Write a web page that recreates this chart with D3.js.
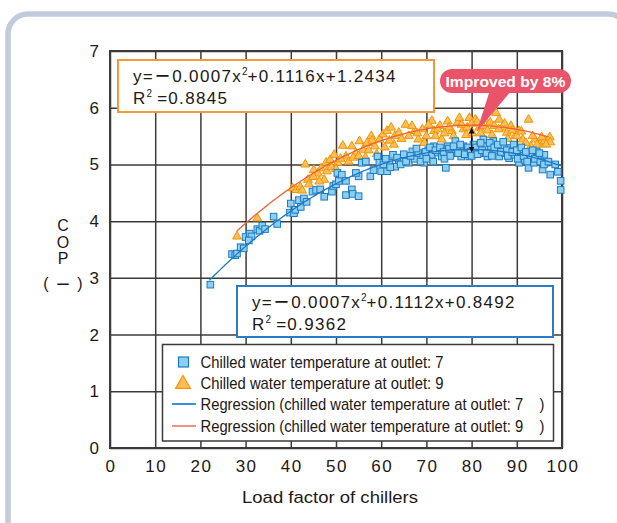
<!DOCTYPE html>
<html>
<head>
<meta charset="utf-8">
<script src="https://cdn.jsdelivr.net/npm/d3@7"></script>
<style>
  html, body { margin: 0; padding: 0; background: #fff; }
  svg { display: block; font-family: "Liberation Sans", Arial, sans-serif; }
</style>
</head>
<body>
<svg id="chart" width="617" height="523"></svg>
<script>
const xTicks = [0, 10, 20, 30, 40, 50, 60, 70, 80, 90, 100];
const yTicks = [0, 1, 2, 3, 4, 5, 6, 7];

// regression coefficients as printed on the chart: [a, b, c] for a*x^2 + b*x + c, with x range drawn
const fit7 = [-0.0007, 0.1112, 0.8492];
const fit7Range = [22, 100];
const fit9 = [-0.0007, 0.1116, 1.2434];
const fit9Range = [28, 97];

const eq9Lines = ["0.0007x", "+0.1116x+1.2434", "0.8845"];
const eq7Lines = ["0.0007x", "+0.1112x+0.8492", "0.9362"];

const legendLabels = [
  "Chilled water temperature at outlet: 7",
  "Chilled water temperature at outlet: 9",
  "Regression (chilled water temperature at outlet: 7    )",
  "Regression (chilled water temperature at outlet: 9    )"
];

// chilled water outlet 7 (blue squares): [load factor %, COP]
const outlet7 = [
  [22.2, 2.88], [27, 3.42], [27.7, 3.4], [28.1, 3.43], [28.9, 3.54], [29.6, 3.52],
  [30, 3.72], [30.9, 3.78], [31.3, 3.73], [30.7, 3.66], [32.6, 3.86], [33.1, 3.83],
  [33.7, 3.92], [34.3, 3.86], [36.2, 4.08], [37, 3.95], [40, 4.31], [39.8, 4.15],
  [40.7, 4.14], [41, 4.2], [41.8, 4.37], [42.2, 4.25], [42.9, 4.4], [43.5, 4.34],
  [44.8, 4.52], [45.6, 4.55], [46.5, 4.56], [47.4, 4.43], [49.1, 4.52], [49.4, 4.62],
  [50, 4.65], [50.6, 4.71], [50.3, 4.85], [51.3, 4.82], [52.2, 4.71], [52.2, 4.46],
  [53.5, 4.56], [53.7, 4.48], [55, 4.44], [55, 4.79], [54.4, 4.85], [55.7, 5.03],
  [56.6, 5.05], [57.6, 4.79], [58.3, 4.9], [59.2, 5.14], [59.6, 5.03], [60, 4.88],
  [61.3, 4.88], [61.8, 5.03], [62.6, 5.17], [63.1, 4.96], [63.9, 5.08], [64.8, 5.11],
  [66.1, 5.03], [66.9, 5.23], [67.4, 5.1], [68.2, 5.2], [69.3, 5.14], [69.5, 5.03],
  [70.4, 5.25], [71.2, 5.17], [71.7, 5.32], [72.5, 5.21], [73.4, 5.14], [74.3, 4.94],
  [74.7, 5.32], [75.6, 5.2], [76.4, 5.41], [76.9, 5.26], [77.7, 5.14], [78.2, 5.32],
  [79, 5.23], [79.5, 5.14], [80.4, 5.35], [80.8, 5.26], [81.7, 5.2], [82.6, 5.44],
  [83, 5.32], [83.5, 5.14], [84.3, 5.29], [84.8, 5.41], [85.4, 5.23], [86.1, 5.14],
  [86.9, 5.32], [87.4, 5.2], [88.3, 5.11], [88.7, 5.29], [89.6, 5.17], [90.5, 5.03],
  [90.9, 5.2], [91.8, 5.08], [92.6, 4.94], [93.1, 5.14], [93.8, 5.03], [94.4, 5.23],
  [94.8, 5.11], [95.7, 4.91], [96.1, 5.17], [96.6, 5.03], [97.4, 4.82], [99.1, 4.87],
  [99.7, 4.71], [99.7, 4.55],
  [60.5, 5.0], [61, 5.1], [62, 4.95], [63.5, 5.12], [64.3, 5.0], [65, 5.18],
  [65.5, 5.05], [66.5, 5.15], [67.8, 5.28], [68.7, 5.05], [69.8, 5.22], [70, 5.1],
  [70.8, 5.3], [71.5, 5.05], [72, 5.25], [73, 5.3], [73.8, 5.22], [74, 5.1],
  [75, 5.28], [75.3, 5.15], [76, 5.32], [77, 5.2], [77.5, 5.35], [78.5, 5.18],
  [79.2, 5.3], [79.8, 5.22], [80, 5.15], [81, 5.3], [81.3, 5.18], [82, 5.38],
  [82.3, 5.25], [83.3, 5.2], [84, 5.38], [84.5, 5.15], [85, 5.3], [85.8, 5.35],
  [86.5, 5.22], [87, 5.4], [87.8, 5.25], [88, 5.15], [89, 5.22], [89.3, 5.35],
  [90, 5.25], [90.2, 5.1], [91, 5.3], [91.5, 5.15], [92, 5.22], [92.3, 5.05],
  [93.5, 5.25], [94, 5.1], [95, 5.2], [95.2, 5.05], [96, 5.0], [97, 5.05], [98.5, 5.0]
];

// chilled water outlet 9 (orange triangles): [load factor %, COP]
const outlet9 = [
  [28.1, 3.73], [32.6, 4.05], [40.4, 4.58], [41.2, 4.55], [42.1, 4.6], [42.5, 4.54],
  [43.2, 5.0], [43.8, 4.73], [45.1, 4.9], [46, 4.84], [46.7, 4.93], [47.4, 4.73],
  [47.8, 5.03], [48.7, 5.08], [49.6, 5.17], [50.4, 5.03], [51.5, 5.33], [52.2, 5.14],
  [53.5, 5.32], [54.4, 5.2], [55.2, 5.41], [56, 5.26], [56.9, 5.38], [57.8, 5.5],
  [58.6, 5.32], [59.6, 5.44], [60.4, 5.53], [61.3, 5.59], [62.2, 5.65], [63, 5.5],
  [63.9, 5.56], [65.4, 5.7], [66.1, 5.5], [67.4, 5.59], [68.2, 5.44], [69.1, 5.62],
  [70, 5.5], [71.2, 5.77], [71.7, 5.59], [73, 5.68], [73.4, 5.44], [74.7, 5.76],
  [75.6, 5.59], [76.9, 5.74], [77.3, 5.82], [78.2, 5.62], [79.5, 5.82], [80.8, 5.79],
  [81.7, 5.65], [83, 5.79], [84.1, 5.74], [85.4, 5.91], [86.1, 5.79], [86.9, 5.65],
  [87.8, 5.56], [88.7, 5.68], [89.6, 5.5], [90.5, 5.59], [91.3, 5.44], [92.6, 5.79],
  [93.1, 5.32], [94, 5.44], [95.3, 5.38], [96.1, 5.41], [97.3, 5.48], [97.4, 5.39],
  [62.8, 5.35], [64.5, 5.45], [66.8, 5.68], [68, 5.55], [69.5, 5.38], [70.5, 5.7],
  [72, 5.5], [72.5, 5.62], [74, 5.55], [75, 5.65], [76, 5.5], [77.8, 5.7],
  [78.8, 5.52], [79, 5.65], [80, 5.72], [80.2, 5.55], [81.2, 5.75], [82, 5.55],
  [82.5, 5.68], [83.5, 5.6], [84.5, 5.52], [85, 5.68], [86, 5.62], [87.3, 5.72],
  [88, 5.45], [89, 5.6], [90, 5.5], [91, 5.58], [92, 5.38], [93.5, 5.5],
  [94.5, 5.35], [95.5, 5.48], [96.5, 5.35],
  [44, 4.65], [45, 4.78], [46.3, 4.7], [48, 4.88], [49, 4.95], [50, 4.92],
  [51, 5.1], [52.8, 5.05], [53.8, 5.12], [55, 5.15], [56.5, 5.12], [57.2, 5.25],
  [58, 5.42], [59, 5.18], [60.8, 5.3], [61.8, 5.42]
];

// the "improved by 8%" arrow: load factor and COP span
const arrowAt = [80, 5.22, 5.64];

const ink = "#231815";
const grid = "#3e3a39";
const c7 = { fill: "#8ccff0", stroke: "#1d79c1", line: "#1f78c8", legend: "#3f8fd6" };
const c9 = { fill: "#fdbd5a", stroke: "#f29600", line: "#ef6138", legend: "#f29483" };

const svg = d3.select("#chart");

// outer frame
svg.append("rect")
  .attr("x", 8).attr("y", 14)
  .attr("width", 620).attr("height", 530)
  .attr("rx", 20)
  .attr("fill", "#fff")
  .attr("stroke", "#c2cadb")
  .attr("stroke-width", 5.5);

const x = d3.scaleLinear().domain([0, 100]).range([110, 562]);
const y = d3.scaleLinear().domain([0, 7]).range([448, 51]);

// grid
const gx = svg.append("g")
  .attr("transform", `translate(0,${y(0)})`)
  .call(d3.axisBottom(x).tickValues(xTicks).tickSize(y(7) - y(0)).tickFormat(""));
gx.select(".domain").remove();
gx.selectAll("line").attr("stroke", grid).attr("stroke-width", 1.5);

const gy = svg.append("g")
  .attr("transform", `translate(${x(0)},0)`)
  .call(d3.axisLeft(y).tickValues(yTicks).tickSize(x(0) - x(100)).tickFormat(""));
gy.select(".domain").remove();
gy.selectAll("line").attr("stroke", grid).attr("stroke-width", 1.5);

svg.append("rect")
  .attr("x", x(0)).attr("y", y(7))
  .attr("width", x(100) - x(0)).attr("height", y(0) - y(7))
  .attr("fill", "none")
  .attr("stroke", grid)
  .attr("stroke-width", 2);

// tick labels
svg.append("g").selectAll("text")
  .data(xTicks).join("text")
  .attr("x", d => x(d) + 1)
  .attr("y", 472)
  .attr("text-anchor", "middle")
  .attr("font-size", 17)
  .attr("letter-spacing", 1.5)
  .attr("fill", ink)
  .text(d => d);

svg.append("g").selectAll("text")
  .data(yTicks).join("text")
  .attr("x", 99)
  .attr("y", d => y(d) + 6)
  .attr("text-anchor", "end")
  .attr("font-size", 17)
  .attr("fill", ink)
  .text(d => d);

// axis titles
svg.append("text")
  .attr("x", 330).attr("y", 503)
  .attr("text-anchor", "middle")
  .attr("font-size", 17)
  .attr("textLength", 176)
  .attr("lengthAdjust", "spacingAndGlyphs")
  .attr("fill", ink)
  .text("Load factor of chillers");

// stacked y title, one text element
const yl = svg.append("text")
  .attr("fill", ink).attr("font-size", 16).attr("text-anchor", "middle");
["C", "O", "P"].forEach((ch, i) => {
  yl.append("tspan").attr("x", 63).attr("y", 231 + i * 16.5).text(ch);
});
yl.append("tspan").attr("x", 46).attr("y", 289).text("(");
yl.append("tspan").attr("x", 63).attr("y", 290)
  .attr("font-family", "'Noto Sans CJK JP', sans-serif")
  .attr("font-weight", 700)
  .text("－");
yl.append("tspan").attr("x", 80).attr("y", 289).text(")");

// scatter: triangles first, squares on top
const tri = d3.symbol().type(d3.symbolTriangle).size(34);
svg.append("g").selectAll("path")
  .data(outlet9).join("path")
  .attr("transform", d => `translate(${x(d[0])},${y(d[1])})`)
  .attr("d", tri)
  .attr("fill", c9.fill)
  .attr("stroke", c9.stroke)
  .attr("stroke-width", 1);

svg.append("g").selectAll("rect")
  .data(outlet7).join("rect")
  .attr("x", d => x(d[0]) - 3.3)
  .attr("y", d => y(d[1]) - 3.3)
  .attr("width", 6.6).attr("height", 6.6)
  .attr("fill", c7.fill)
  .attr("stroke", c7.stroke)
  .attr("stroke-width", 1);

// regression curves
function curvePoints(coef, range) {
  return d3.range(range[0], range[1] + 0.01, 0.5)
    .map(v => [v, coef[0] * v * v + coef[1] * v + coef[2]]);
}
const line = d3.line().x(d => x(d[0])).y(d => y(d[1]));
svg.append("path")
  .datum(curvePoints(fit9, fit9Range))
  .attr("d", line)
  .attr("fill", "none")
  .attr("stroke", c9.line)
  .attr("stroke-width", 1.3);
svg.append("path")
  .datum(curvePoints(fit7, fit7Range))
  .attr("d", line)
  .attr("fill", "none")
  .attr("stroke", c7.line)
  .attr("stroke-width", 1.3);

// equation boxes
function eqBox(bx, by, bw, bh, stroke, lines, tx, ty) {
  const g = svg.append("g");
  g.append("rect")
    .attr("x", bx).attr("y", by).attr("width", bw).attr("height", bh)
    .attr("fill", "#fff").attr("stroke", stroke).attr("stroke-width", 2);
  const t1 = g.append("text")
    .attr("x", tx).attr("y", ty)
    .attr("font-size", 17).attr("letter-spacing", 1.3).attr("fill", ink);
  t1.append("tspan").text("y=");
  t1.append("tspan").attr("font-family", "'Noto Sans CJK JP', sans-serif").attr("font-weight", 700).text("－");
  t1.append("tspan").text(lines[0]);
  t1.append("tspan").attr("font-size", 10).attr("dy", -7).attr("letter-spacing", 0).text("2");
  t1.append("tspan").attr("dy", 7).text(lines[1]);
  const t2 = g.append("text")
    .attr("x", tx).attr("y", ty + 22)
    .attr("font-size", 17).attr("letter-spacing", 1.3).attr("fill", ink);
  t2.append("tspan").text("R");
  t2.append("tspan").attr("font-size", 10).attr("dy", -7).attr("letter-spacing", 0).text("2");
  t2.append("tspan").attr("dy", 7).attr("dx", 5).text("=" + lines[2]);
}
eqBox(118, 60, 316, 52, "#f09a3a", eq9Lines, 133, 82);
eqBox(237, 286, 316, 51, "#2a7cc7", eq7Lines, 252, 308);

// legend
const lg = svg.append("g");
lg.append("rect")
  .attr("x", 162.5).attr("y", 344.5).attr("width", 391).attr("height", 96.5)
  .attr("fill", "#fff").attr("stroke", grid).attr("stroke-width", 1.5);
lg.append("rect")
  .attr("x", 178.5).attr("y", 357).attr("width", 10).attr("height", 10)
  .attr("fill", c7.fill).attr("stroke", c7.stroke).attr("stroke-width", 1.2);
lg.append("path")
  .attr("transform", "translate(183,384)")
  .attr("d", d3.symbol().type(d3.symbolTriangle).size(95))
  .attr("fill", c9.fill).attr("stroke", c9.stroke).attr("stroke-width", 1.2);
lg.append("line").attr("x1", 172).attr("x2", 196).attr("y1", 404).attr("y2", 404)
  .attr("stroke", c7.legend).attr("stroke-width", 2);
lg.append("line").attr("x1", 172).attr("x2", 196).attr("y1", 426).attr("y2", 426)
  .attr("stroke", c9.legend).attr("stroke-width", 2);
const legendLen = [243, 243, 344, 344];
legendLabels.forEach((s, i) => {
  lg.append("text")
    .attr("x", 200.5).attr("y", 368 + i * 21.2)
    .attr("font-size", 17)
    .attr("textLength", legendLen[i])
    .attr("lengthAdjust", "spacingAndGlyphs")
    .style("white-space", "pre")
    .attr("fill", ink)
    .text(s);
});

// improvement annotation
const ax = x(arrowAt[0]);
svg.append("defs").append("marker")
  .attr("id", "ah").attr("viewBox", "0 0 10 10")
  .attr("refX", 9).attr("refY", 5)
  .attr("markerWidth", 5).attr("markerHeight", 5)
  .attr("orient", "auto-start-reverse")
  .append("path").attr("d", "M0,0 L10,5 L0,10 z").attr("fill", "#111");
svg.append("line")
  .attr("x1", ax).attr("x2", ax)
  .attr("y1", y(arrowAt[2])).attr("y2", y(arrowAt[1]))
  .attr("stroke", "#111").attr("stroke-width", 1.2)
  .attr("marker-start", "url(#ah)").attr("marker-end", "url(#ah)");

const pill = svg.append("g");
pill.append("path")
  .attr("d", `M490,90 L512,90 L${ax + 5},132 Z`)
  .attr("fill", "#e9546b");
pill.append("rect")
  .attr("x", 440).attr("y", 69).attr("width", 131).attr("height", 24).attr("rx", 12)
  .attr("fill", "#e9546b");
pill.append("text")
  .attr("x", 505.5).attr("y", 86.5)
  .attr("text-anchor", "middle")
  .attr("font-size", 15).attr("font-weight", 700)
  .attr("textLength", 120)
  .attr("lengthAdjust", "spacingAndGlyphs")
  .attr("fill", "#fff")
  .text("Improved by 8%");
</script>
</body>
</html>
